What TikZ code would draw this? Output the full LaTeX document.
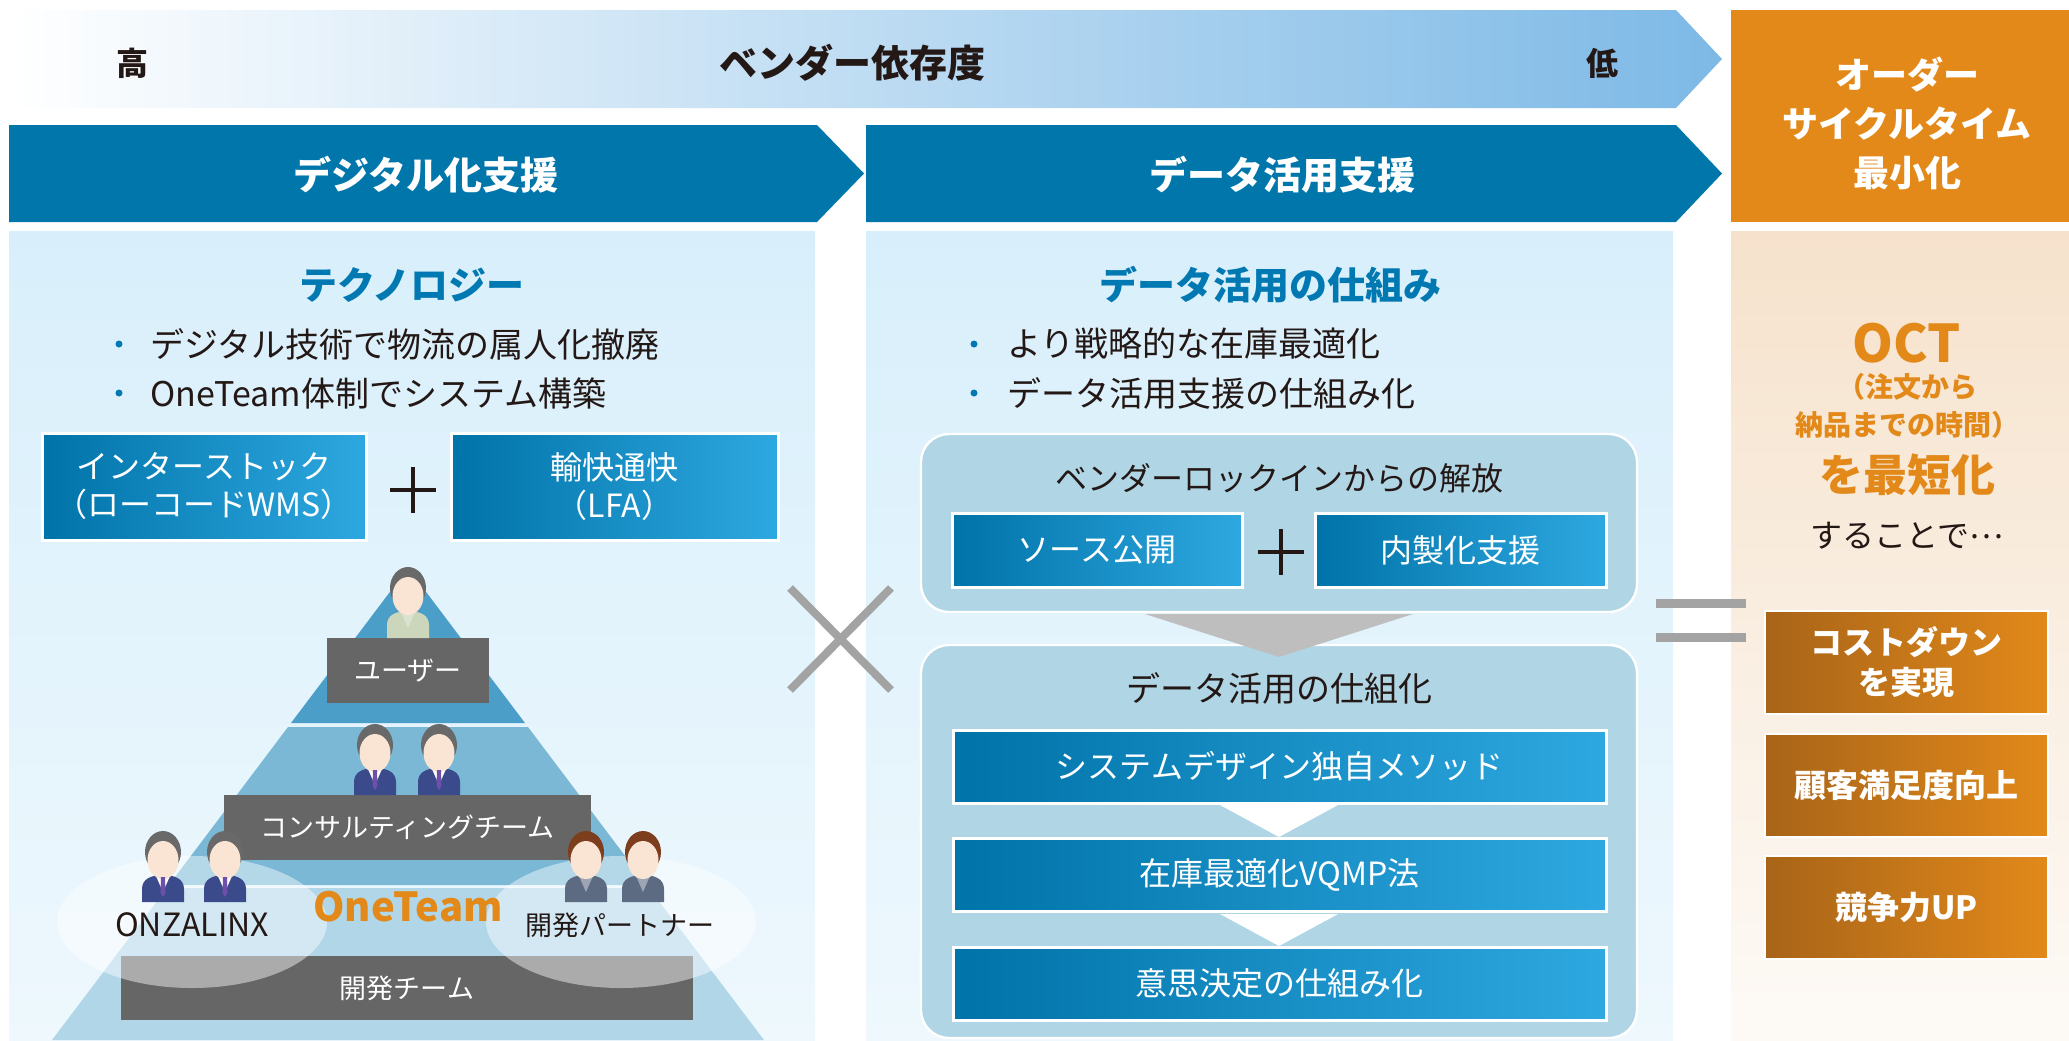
\documentclass[tikz,border=0pt]{standalone}
\usepackage{fontspec}
\setmainfont{Noto Sans CJK JP}
\definecolor{bannerblue}{RGB}{0,118,170}
\definecolor{skyfade}{RGB}{125,185,230}
\definecolor{paneltop}{RGB}{216,239,251}
\definecolor{panelbot}{RGB}{238,248,253}
\definecolor{titleblue}{RGB}{0,120,178}
\definecolor{boxdeep}{RGB}{0,115,168}
\definecolor{boxsky}{RGB}{46,168,224}
\definecolor{roundfill}{RGB}{176,214,230}
\definecolor{octorange}{RGB}{226,137,26}
\definecolor{octbrown}{RGB}{168,100,24}
\definecolor{peach}{RGB}{246,226,204}
\definecolor{peachfade}{RGB}{253,250,246}
\definecolor{inkdark}{RGB}{35,24,21}
\definecolor{tierA}{RGB}{74,158,200}
\definecolor{tierB}{RGB}{122,184,214}
\definecolor{tierC}{RGB}{176,214,232}
\definecolor{barGray}{RGB}{102,102,102}
\definecolor{markGray}{RGB}{163,163,163}
\definecolor{skin}{RGB}{250,228,212}
\definecolor{hairGray}{RGB}{105,105,105}
\definecolor{hairBrown}{RGB}{125,62,30}
\definecolor{suitNavy}{RGB}{58,74,138}
\definecolor{shirtGray}{RGB}{92,106,130}
\definecolor{workGreen}{RGB}{204,214,186}
\definecolor{tiePurple}{RGB}{110,80,170}

\tikzset{
  bluebox/.style={draw=white, line width=1.5pt, left color=boxdeep, right color=boxsky,
    inner sep=0pt, text=white, align=center, font=\fontsize{16}{19}\selectfont},
  orangebox/.style={draw=white, line width=1pt, left color=octbrown, right color=octorange,
    inner sep=0pt, minimum width=141.5pt, minimum height=51.5pt, text=white, align=center,
    font=\bfseries\fontsize{16}{20}\selectfont},
  graybar/.style={fill=barGray, inner sep=0pt, minimum height=32.5pt, text=white,
    font=\fontsize{13.5}{16}\selectfont},
  roundbox/.style={draw=white, line width=1.2pt, fill=roundfill, rounded corners=14pt},
  bannertext/.style={text=white, font=\bfseries\fontsize{19}{24}\selectfont},
  paneltitle/.style={text=titleblue, font=\bfseries\fontsize{19}{24}\selectfont},
  bullettext/.style={anchor=west, inner sep=0pt, text=inkdark, font=\fontsize{17}{20}\selectfont},
  pics/person/.style n args={3}{code={
    \fill[#2] (-21,0) -- (-21,13) .. controls (-21,23) and (-12,27) .. (0,27)
      .. controls (12,27) and (21,23) .. (21,13) -- (21,0) -- cycle;
    \fill[#3] (-7,26) -- (0,10) -- (7,26) -- cycle;
    \fill[#1] (0,50) ellipse (18 and 21);
    \fill[skin] (0,42) ellipse (15.5 and 19);
  }},
  pics/suit/.style={code={
    \pic {person={hairGray}{suitNavy}{white}};
    \fill[tiePurple] (-2,25) -- (2,25) -- (2.5,9) -- (0,5) -- (-2.5,9) -- cycle;
  }}
}

\begin{document}
\begin{tikzpicture}[x=0.5pt,y=0.5pt,yscale=-1]
\useasboundingbox (0,0) rectangle (2069,1040);

% header arrows
\shade[left color=white, right color=skyfade] (10,10) -- (1676,10) -- (1722,59) -- (1676,108) -- (10,108) -- cycle;
\fill[bannerblue] (9,125) -- (817,125) -- (864,173.5) -- (817,222) -- (9,222) -- cycle;
\fill[bannerblue] (866,125) -- (1676,125) -- (1722,173.5) -- (1676,222) -- (866,222) -- cycle;
\fill[octorange] (1731,10) rectangle (2069,222);

\node[text=inkdark, font=\bfseries\fontsize{16}{20}\selectfont] (high) at (132,63) {高};
\node[text=inkdark, font=\bfseries\fontsize{19}{24}\selectfont] (dependency) at (852,63) {ベンダー依存度};
\node[text=inkdark, font=\bfseries\fontsize{16}{20}\selectfont] (low) at (1602,63) {低};
\node[bannertext] (digital) at (426,175) {デジタル化支援};
\node[bannertext] (datause) at (1282,175) {データ活用支援};
\node[text=white, align=center, font=\bfseries\fontsize{18}{24.5}\selectfont] (octgoal) at (1907,123) {オーダー\\サイクルタイム\\最小化};

% panels
\shade[top color=paneltop, bottom color=panelbot] (9,231) rectangle (815,1040);
\shade[top color=paneltop, bottom color=panelbot] (866,231) rectangle (1673,1040);
\shade[top color=peach, bottom color=peachfade] (1731,231) rectangle (2069,1040);

% technology column
\node[paneltitle] (tech) at (412,285) {テクノロジー};
\fill[titleblue] (119,344) circle (3.5) (119,393) circle (3.5);
\node[bullettext] (techA) at (150,344) {デジタル技術で物流の属人化撤廃};
\node[bullettext] (techB) at (150,393) {OneTeam体制でシステム構築};
\node[bluebox, minimum width=162pt, minimum height=53.5pt] (wms) at (204,486.5) {インターストック\\（ローコードWMS）};
\node[bluebox, minimum width=163.5pt, minimum height=53.5pt] (lfa) at (614.5,486.5) {輸快通快\\（LFA）};
\draw[inkdark, line width=2pt] (390,490) -- (436,490) (413,467) -- (413,513);

% pyramid
\fill[tierA] (408,568) -- (525,723) -- (291,723) -- cycle;
\fill[tierB] (288,727) -- (528,727) -- (647,885) -- (169,885) -- cycle;
\fill[tierC] (167,888) -- (649,888) -- (764,1040) -- (52,1040) -- cycle;
\node[graybar, minimum width=81pt] (user) at (408,670.5) {ユーザー};
\node[graybar, minimum width=183.5pt] (consult) at (407.5,827.5) {コンサルティングチーム};
\node[graybar, minimum width=286pt, minimum height=32pt] (devteam) at (407,988) {開発チーム};
\fill[white, opacity=0.45] (192,922) ellipse (135 and 66);
\fill[white, opacity=0.45] (621,922) ellipse (135 and 66);
\pic at (408,638) {person={hairGray}{workGreen}{workGreen!70!white}};
\pic at (375,795) {suit};
\pic at (439,795) {suit};
\pic at (163,902) {suit};
\pic at (225,902) {suit};
\pic at (586,902) {person={hairBrown}{shirtGray}{shirtGray!60!white}};
\pic at (643,902) {person={hairBrown}{shirtGray}{shirtGray!60!white}};
\node[text=inkdark, font=\fontsize{16}{20}\selectfont] (onzalinx) at (192,925) {ONZALINX};
\node[text=octorange, font=\bfseries\fontsize{20}{24}\selectfont] (oneteam) at (408,907) {OneTeam};
\node[text=inkdark, font=\fontsize{13.5}{16}\selectfont] (partner) at (620,925) {開発パートナー};

% times
\draw[markGray, line width=4pt] (790,588) -- (891,690) (790,690) -- (891,588);

% data column
\node[paneltitle] (datatitle) at (1270,285) {データ活用の仕組み};
\fill[titleblue] (974,344) circle (3.5) (974,393) circle (3.5);
\node[bullettext] (dataA) at (1007,344) {より戦略的な在庫最適化};
\node[bullettext] (dataB) at (1007,393) {データ活用支援の仕組み化};
\draw[roundbox] (921,434) rectangle (1637,612);
\node[text=inkdark, font=\fontsize{16}{20}\selectfont] (release) at (1279,478) {ベンダーロックインからの解放};
\node[bluebox, minimum width=145pt, minimum height=37pt] (source) at (1097,550) {ソース公開};
\node[bluebox, minimum width=145.5pt, minimum height=37pt] (inhouse) at (1460.5,550) {内製化支援};
\draw[inkdark, line width=2pt] (1258,552) -- (1304,552) (1281,529) -- (1281,575);
\draw[roundbox] (921,645) rectangle (1637,1038);
\fill[markGray!70!white] (1145,614) -- (1413,614) -- (1279,657) -- cycle;
\node[text=inkdark, font=\fontsize{17}{20}\selectfont] (mechanism) at (1279,688) {データ活用の仕組化};
\node[bluebox, minimum width=326.5pt, minimum height=36.5pt] (method) at (1279.5,766.5) {システムデザイン独自メソッド};
\node[bluebox, minimum width=326.5pt, minimum height=36.5pt] (vqmp) at (1279.5,875) {在庫最適化VQMP法};
\node[bluebox, minimum width=326.5pt, minimum height=36.5pt] (decision) at (1279.5,983.5) {意思決定の仕組み化};
\fill[white] (1220,805) -- (1338,805) -- (1279,837) -- cycle;
\fill[white] (1220,914) -- (1338,914) -- (1279,946) -- cycle;

% equals
\draw[markGray, line width=4.5pt] (1656,603) -- (1746,603) (1656,637) -- (1746,637);

% OCT column
\node[text=octorange, font=\bfseries\fontsize{26}{30}\selectfont] (oct) at (1907,343) {OCT};
\node[text=octorange, align=center, font=\bfseries\fontsize{14}{19}\selectfont] (octnote) at (1907,406) {（注文から\\納品までの時間）};
\node[text=octorange, font=\bfseries\fontsize{22}{26}\selectfont] (shorten) at (1907,475) {を最短化};
\node[text=inkdark, font=\fontsize{16}{20}\selectfont] (bydoing) at (1907,536) {することで\raisebox{0.3em}{…}};
\node[orangebox] (costdown) at (1906.5,662.5) {コストダウン\\を実現};
\node[orangebox] (satisfaction) at (1906.5,785) {顧客満足度向上};
\node[orangebox] (compete) at (1906.5,907) {競争力UP};
\end{tikzpicture}
\end{document}
